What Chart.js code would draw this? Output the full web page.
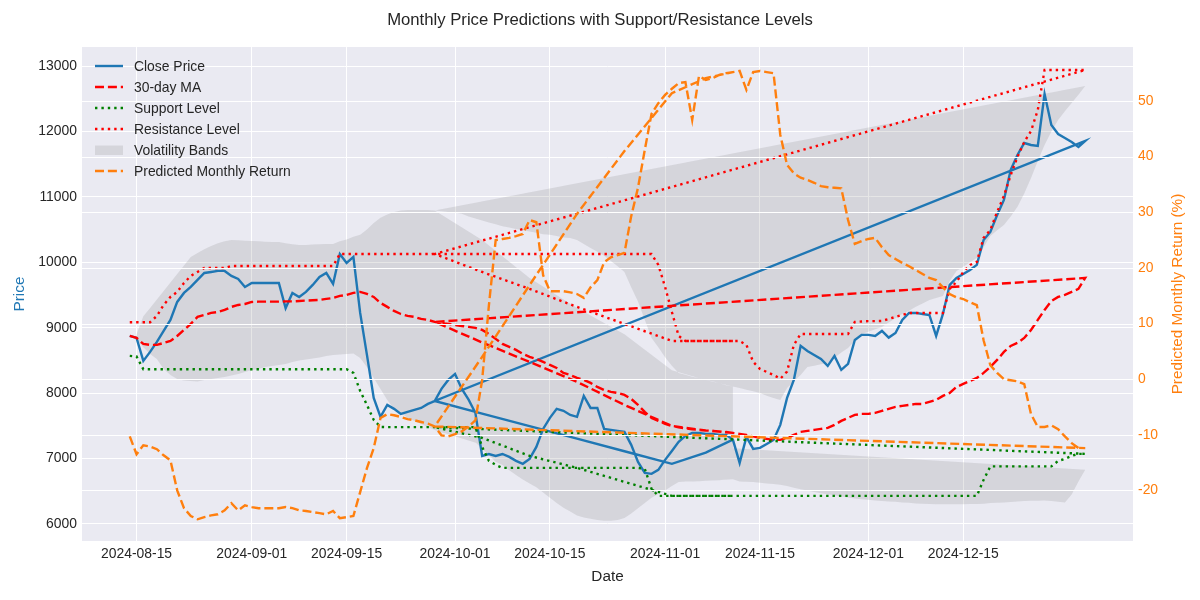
<!DOCTYPE html>
<html>
<head>
<meta charset="utf-8">
<title>Monthly Price Predictions</title>
<script src="https://cdn.jsdelivr.net/npm/chart.js@4.4.1/dist/chart.umd.min.js"></script>
<style>
  body { margin: 0; background: #ffffff; }
  #wrap { position: relative; width: 1200px; height: 600px; }
  #legend { position: absolute; left: 0; top: 0; font-family: 'Liberation Sans', Arial, sans-serif; font-size: 13.9px; color: #262626; }
  .row { position: absolute; left: 95px; height: 20px; line-height: 20px; white-space: nowrap; }
  .row svg { position: absolute; left: 0; top: 5px; }
  .row span { position: absolute; left: 39px; }
</style>
</head>
<body>
<div id="wrap">
  <canvas id="chart" width="1200" height="600"></canvas>
  <div id="legend"></div>
</div>
<script>
// daily points run from startDate for closeDaily.length days, then the
// series revisits late Sep - mid Nov (revisitDates), drawn in that order
const startDate = '2024-08-14';
const revisitDates = ['2024-09-28', '2024-10-05', '2024-10-12', '2024-10-19', '2024-10-26', '2024-11-02', '2024-11-07', '2024-11-11'];
const xTickLabels = ['2024-08-15', '2024-09-01', '2024-09-15', '2024-10-01', '2024-10-15', '2024-11-01', '2024-11-15', '2024-12-01', '2024-12-15'];
const priceTicks = [6000, 7000, 8000, 9000, 10000, 11000, 12000, 13000];
const returnTicks = [-20, -10, 0, 10, 20, 30, 40, 50];

const closeDaily = [
  8874, 8844, 8492, 8630, 8783, 8950, 9119, 9394, 9532, 9623,
  9730, 9837, 9852, 9868, 9868, 9791, 9746, 9623, 9684, 9684,
  9684, 9684, 9684, 9300, 9532, 9470, 9547, 9654, 9776, 9837,
  9669, 10127, 9990, 10082, 9226, 8584, 7927, 7637, 7820, 7760,
  7683, 7713, 7744, 7774, 7835, 7880, 8065, 8202, 8294, 8065,
  7900, 7700, 7040, 7070, 7040, 7070, 7025, 6965, 6920, 6995,
  7178, 7453, 7622, 7760, 7730, 7667, 7637, 7958, 7774, 7774,
  7453, 7438, 7423, 7407, 7210, 6950, 6781, 6766, 6827, 6980,
  7117, 7255, 7346, 7392, 7392, 7377, 7377, 7362, 7362, 7290,
  6934, 7331, 7148, 7163, 7224, 7285, 7515, 7927, 8202, 8722,
  8645, 8584, 8523, 8416, 8569, 8355, 8447, 8813, 8890, 8890,
  8874, 8951, 8849, 8920, 9119, 9226, 9226, 9210, 9195, 8874,
  9210, 9654, 9761, 9822, 9883, 9960, 10341, 10464, 10723, 10953,
  11411, 11640, 11823, 11793, 11778, 12572, 12098, 11961, 11900, 11839,
  11762, 11854
];
const maDaily = [
  8874, 8844, 8752, 8737, 8737, 8767, 8798, 8874, 8966, 9058,
  9165, 9195, 9226, 9241, 9272, 9318, 9348, 9363, 9394, 9399,
  9399, 9399, 9399, 9402, 9402, 9409, 9415, 9420, 9424, 9440,
  9455, 9486, 9501, 9532, 9547, 9516, 9470, 9379, 9318, 9257,
  9210, 9180, 9165, 9134, 9119, 9089, 9073, 9058, 9043, 9027,
  9012, 8997, 8966, 8905, 8829, 8752, 8706, 8661, 8600, 8554,
  8523, 8477, 8431, 8385, 8309, 8278, 8232, 8202, 8156, 8095,
  8049, 8019, 8003, 7973, 7912, 7820, 7713, 7622, 7576, 7530,
  7499, 7476, 7461, 7446, 7438, 7430, 7423, 7415, 7407, 7392,
  7377, 7362, 7339, 7316, 7300, 7285, 7285, 7316, 7362, 7407,
  7423, 7438, 7453, 7469, 7515, 7576, 7622, 7667, 7683, 7683,
  7698, 7729, 7759, 7790, 7805, 7820, 7835, 7835, 7866, 7897,
  7958, 8003, 8095, 8141, 8187, 8232, 8309, 8401, 8508, 8630,
  8722, 8768, 8844, 8966, 9119, 9272, 9409, 9470, 9501, 9547,
  9593, 9761
];
const supportDaily = [
  8570, 8560, 8366, 8366, 8366, 8366, 8366, 8366, 8366, 8366,
  8366, 8366, 8366, 8366, 8366, 8366, 8366, 8366, 8366, 8366,
  8366, 8366, 8366, 8366, 8366, 8366, 8366, 8366, 8366, 8366,
  8366, 8366, 8366, 8309, 8034, 7820, 7591, 7484, 7480, 7480,
  7480, 7480, 7480, 7480, 7480, 7480, 7480, 7480, 7480, 7480,
  7480, 7480, 7178, 6965, 6904, 6857, 6857, 6857, 6857, 6857,
  6857, 6857, 6857, 6857, 6857, 6857, 6857, 6857, 6857, 6857,
  6857, 6857, 6857, 6857, 6857, 6857, 6843, 6537, 6430, 6430,
  6430, 6430, 6430, 6430, 6430, 6430, 6430, 6430, 6430, 6430,
  6430, 6430, 6430, 6430, 6430, 6430, 6430, 6430, 6430, 6430,
  6430, 6430, 6430, 6430, 6430, 6430, 6430, 6430, 6430, 6430,
  6430, 6430, 6430, 6430, 6430, 6430, 6430, 6430, 6430, 6430,
  6430, 6430, 6430, 6430, 6430, 6430, 6674, 6880, 6880, 6880,
  6880, 6880, 6880, 6880, 6880, 6880, 6880, 6964, 6995, 7041,
  7072, 7072
];
const resistanceDaily = [
  9084, 9084, 9084, 9084, 9180, 9348, 9470, 9547, 9684, 9791,
  9852, 9913, 9913, 9913, 9913, 9944, 9944, 9944, 9944, 9944,
  9944, 9944, 9944, 9944, 9944, 9944, 9944, 9944, 9944, 9944,
  9944, 10127, 10127, 10127, 10127, 10127, 10127, 10127, 10127, 10127,
  10127, 10127, 10127, 10127, 10127, 10127, 10127, 10127, 10127, 10127,
  10127, 10127, 10127, 10127, 10127, 10127, 10127, 10127, 10127, 10127,
  10127, 10127, 10127, 10127, 10127, 10127, 10127, 10127, 10127, 10127,
  10127, 10127, 10127, 10127, 10127, 10127, 10127, 10127, 9960, 9623,
  9241, 8874, 8798, 8798, 8798, 8798, 8798, 8798, 8798, 8798,
  8798, 8737, 8477, 8370, 8324, 8278, 8220, 8330, 8737, 8905,
  8905, 8905, 8905, 8905, 8905, 8905, 8905, 9088, 9095, 9100,
  9100, 9104, 9134, 9165, 9195, 9226, 9226, 9226, 9226, 9226,
  9226, 9593, 9700, 9852, 9960, 10005, 10372, 10494, 10769, 11014,
  11334, 11610, 11839, 12007, 12328, 12939, 12939, 12939, 12939, 12939,
  12939, 12939
];
const returnDaily = [
  -10.3, -13.5, -11.9, -12.1, -12.6, -13.7, -14.6, -20.0, -23.2, -24.6,
  -25.2, -24.8, -24.5, -24.3, -23.6, -22.3, -23.6, -22.7, -23.0, -23.2,
  -23.2, -23.2, -23.2, -23.0, -23.2, -23.6, -23.7, -23.9, -24.1, -24.3,
  -23.7, -25.0, -24.8, -24.6, -20.3, -16.0, -12.4, -7.0, -6.3, -6.5,
  -6.8, -7.2, -7.4, -7.7, -8.0, -8.5, -10.1, -10.3, -9.9, -9.4,
  -8.5, -7.4, -0.2, 13.3, 25.0, 25.2, 25.4, 25.7, 26.1, 28.6,
  28.2, 18.7, 15.8, 15.8, 15.8, 15.6, 15.3, 14.6, 16.5, 17.8,
  21.0, 21.9, 22.3, 22.7, 29.3, 34.4, 41.2, 47.7, 49.6, 51.1,
  52.2, 53.2, 53.4, 46.6, 54.5, 53.8, 54.1, 54.7, 55.0, 55.2,
  55.4, 52.0, 55.2, 55.4, 55.2, 55.0, 43.9, 38.5, 37.0, 36.2,
  35.8, 35.3, 34.7, 34.5, 34.4, 34.3, 28.6, 24.3, 24.8, 25.2,
  25.4, 23.7, 22.3, 21.6, 20.9, 20.3, 19.6, 18.9, 18.2, 17.8,
  16.5, 15.3, 14.7, 14.4, 13.8, 13.3, 7.0, 2.5, 1.1, 0.0,
  -0.2, -0.4, -0.9, -6.3, -8.6, -8.6, -8.3, -9.0, -10.3, -11.5,
  -12.4, -12.4
];
// volatility bands start one day later (first day has no spread)
const upperDaily = [
  8900, 9176, 9300, 9430, 9560, 9690, 9820, 9950, 10080,
  10143, 10200, 10250, 10290, 10320, 10340, 10335, 10330, 10325, 10320,
  10315, 10310, 10310, 10290, 10275, 10265, 10265, 10270, 10275, 10280,
  10280, 10320, 10350, 10390, 10420, 10500, 10600, 10680, 10730, 10770,
  10790, 10800, 10800, 10800, 10800, 10790, 10780, 10770, 10760, 10740,
  10700, 10670, 10640, 10610, 10580, 10550, 10530, 10510, 10490, 10470,
  10450, 10430, 10420, 10400, 10380, 10370, 10340, 10280, 10220, 10160,
  10100, 10020, 9940, 9853, 9620, 9400, 9120, 8844, 8700, 8550,
  8420, 8309, 8280, 8250, 8230, 8200, 8180, 8150, 8120, 8100,
  8080, 8050, 8030, 8003, 7960, 7927, 7897, 8080, 8180, 8279,
  8401, 8420, 8440, 8462, 8540, 8620, 8691, 8800, 8905, 8940,
  8975, 9012, 9080, 9145, 9210, 9260, 9320, 9370, 9424, 9455,
  9486, 9715, 9868, 9930, 10000, 10066, 10230, 10402, 10490, 10570,
  10700, 10850, 11050, 11290, 11550, 11793, 12000, 12175, 12310, 12435,
  12560, 12694
];
const lowerDaily = [
  8820, 8700, 8600, 8523, 8370, 8279, 8217, 8194, 8187,
  8179, 8202, 8217, 8233, 8248, 8271, 8294, 8324, 8355, 8370,
  8400, 8416, 8431, 8447, 8477, 8500, 8515, 8530, 8546, 8569,
  8584, 8592, 8600, 8607, 8538, 8400, 8233, 8065, 7897, 7759,
  7698, 7622, 7576, 7530, 7484, 7438, 7400, 7380, 7360, 7340,
  7320, 7250, 7150, 7050, 6950, 6900, 6820, 6750, 6680, 6620,
  6560, 6480, 6400, 6320, 6250, 6190, 6130, 6100, 6080, 6060,
  6050, 6050, 6060, 6090, 6160, 6240, 6320, 6400, 6460, 6510,
  6580, 6640, 6650, 6650, 6655, 6660, 6665, 6670, 6680, 6684,
  6650, 6645, 6640, 6630, 6620, 6610, 6600, 6580, 6555, 6530,
  6510, 6490, 6470, 6455, 6440, 6420, 6405, 6390, 6380, 6370,
  6360, 6350, 6345, 6340, 6330, 6325, 6315, 6310, 6305, 6300,
  6300, 6300, 6300, 6300, 6305, 6305, 6310, 6320, 6325, 6330,
  6335, 6345, 6350, 6355, 6355, 6360, 6350, 6340, 6330, 6450,
  6650, 6830
];

const closeRevisit = [7880, 7688, 7496, 7304, 7112, 6920, 7090, 7290];
const maRevisit = [9089, 8775, 8477, 8172, 7820, 7499, 7430, 7392];
const supportRevisit = [7480, 7316, 7041, 6858, 6644, 6430, 6430, 6430];
const resistanceRevisit = [10127, 9852, 9593, 9318, 9058, 8798, 8798, 8798];
const returnRevisit = [-8.5, 4.0, 16.9, 29.7, 41.0, 51.4, 54.1, 55.2];
const upperRevisit = [10790, 10340, 9760, 9300, 8900, 8350, 8200, 8100];
const lowerRevisit = [7438, 7210, 7194, 7044, 6740, 6648, 6660, 6684];

const FONT = "'Liberation Sans', Arial, sans-serif";
const TEXT = '#262626';
Chart.defaults.font.family = FONT;

const dayOf = s => (Date.parse(s) - Date.parse(startDate)) / 86400000;
const dailyX = closeDaily.map((_, i) => i);
const revisitX = revisitDates.map(dayOf);
const pathX = dailyX.concat(revisitX);
const bandX = dailyX.slice(1).concat(revisitX);

function path(daily, revisit) {
  return daily.concat(revisit).map((y, i) => ({ x: pathX[i], y: y }));
}

// fill_between style polygon: lower edge forward, upper edge back
const lowerPts = lowerDaily.concat(lowerRevisit).map((y, i) => ({ x: bandX[i], y: y }));
const upperPts = upperDaily.concat(upperRevisit).map((y, i) => ({ x: bandX[i], y: y }));
const bandPolygon = lowerPts.concat(upperPts.slice().reverse());

const DASHED = [9, 3.9];
const DOTTED = [2.4, 4];

function lineSet(label, data, color, dash, order, axis) {
  return {
    label: label, data: data, borderColor: color, backgroundColor: color,
    borderWidth: 2.4, borderDash: dash, borderCapStyle: 'butt',
    pointRadius: 0, tension: 0, fill: false, order: order, yAxisID: axis || 'y'
  };
}

const plotBackground = {
  id: 'plotBackground',
  beforeDraw(chart) {
    const a = chart.chartArea;
    const ctx = chart.ctx;
    ctx.save();
    ctx.fillStyle = '#eaeaf2';
    ctx.fillRect(a.left, a.top, a.right - a.left, a.bottom - a.top);
    ctx.restore();
  }
};

// right axis grid sits above the price artists, below the return line
const returnGrid = {
  id: 'returnGrid',
  beforeDatasetDraw(chart, args) {
    if (args.meta.yAxisID !== 'y1') return;
    const a = chart.chartArea;
    const ctx = chart.ctx;
    const s = chart.scales.y1;
    ctx.save();
    ctx.strokeStyle = '#ffffff';
    ctx.lineWidth = 1;
    returnTicks.forEach(v => {
      const y = Math.round(s.getPixelForValue(v)) + 0.5;
      ctx.beginPath();
      ctx.moveTo(a.left, y);
      ctx.lineTo(a.right, y);
      ctx.stroke();
    });
    ctx.restore();
  }
};

const rightTitle = {
  id: 'rightTitle',
  afterDraw(chart) {
    const a = chart.chartArea;
    const ctx = chart.ctx;
    ctx.save();
    ctx.translate(1178, (a.top + a.bottom) / 2);
    ctx.rotate(-Math.PI / 2);
    ctx.fillStyle = '#ff7f0e';
    ctx.font = '15.3px ' + FONT;
    ctx.textAlign = 'center';
    ctx.textBaseline = 'middle';
    ctx.fillText('Predicted Monthly Return (%)', 0, 0);
    ctx.restore();
  }
};

new Chart(document.getElementById('chart'), {
  type: 'line',
  data: {
    datasets: [
      {
        label: 'Volatility Bands', data: bandPolygon, fill: 'shape',
        backgroundColor: 'rgba(128,128,128,0.2)', borderColor: 'rgba(0,0,0,0)',
        borderWidth: 0, pointRadius: 0, tension: 0, order: 10, yAxisID: 'y'
      },
      lineSet('Close Price', path(closeDaily, closeRevisit), '#1f77b4', [], 5),
      lineSet('30-day MA', path(maDaily, maRevisit), '#ff0000', DASHED, 4),
      lineSet('Support Level', path(supportDaily, supportRevisit), '#008000', DOTTED, 3),
      lineSet('Resistance Level', path(resistanceDaily, resistanceRevisit), '#ff0000', DOTTED, 2),
      lineSet('Predicted Monthly Return', path(returnDaily, returnRevisit), '#ff7f0e', DASHED, 1, 'y1')
    ]
  },
  options: {
    responsive: false,
    animation: false,
    devicePixelRatio: 1,
    layout: { padding: 0 },
    plugins: {
      legend: { display: false },
      tooltip: { enabled: false },
      title: {
        display: true,
        text: 'Monthly Price Predictions with Support/Resistance Levels',
        color: TEXT,
        font: { size: 16.7, weight: 'normal' },
        padding: { top: 10, bottom: 17 }
      }
    },
    scales: {
      x: {
        type: 'linear', min: -7.05, max: 148.05,
        afterBuildTicks: s => { s.ticks = xTickLabels.map(l => ({ value: dayOf(l) })); },
        ticks: {
          autoSkip: false, maxRotation: 0, padding: 5, color: TEXT, font: { size: 13.9 },
          callback: v => xTickLabels.find(l => dayOf(l) === v) || ''
        },
        grid: { color: '#ffffff', lineWidth: 1, drawTicks: false },
        border: { display: false },
        title: { display: true, text: 'Date', color: TEXT, font: { size: 15.3 }, padding: { top: 0, bottom: 13.8 } },
        afterFit: s => { s.height = 59; }
      },
      y: {
        position: 'left', min: 5740, max: 13290,
        afterBuildTicks: s => { s.ticks = priceTicks.map(v => ({ value: v })); },
        ticks: { padding: 5, color: TEXT, font: { size: 13.9 }, callback: v => String(v) },
        grid: { color: '#ffffff', lineWidth: 1, drawTicks: false },
        border: { display: false },
        title: { display: true, text: 'Price', color: '#1f77b4', font: { size: 15.3 }, padding: { top: 10.8, bottom: 0 } },
        afterFit: s => { s.width = 82; }
      },
      y1: {
        position: 'right', min: -29.1, max: 59.7,
        afterBuildTicks: s => { s.ticks = returnTicks.map(v => ({ value: v })); },
        ticks: { padding: 5, color: '#ff7f0e', font: { size: 13.9 }, callback: v => String(v) },
        grid: { display: false, drawTicks: false },
        border: { display: false },
        afterFit: s => { s.width = 67; }
      }
    }
  },
  plugins: [plotBackground, returnGrid, rightTitle]
});

// legend drawn like matplotlib's: inside the axes, upper left
const legendItems = [
  { label: 'Close Price', color: '#1f77b4', dash: '' },
  { label: '30-day MA', color: '#ff0000', dash: DASHED.join(' ') },
  { label: 'Support Level', color: '#008000', dash: DOTTED.join(' ') },
  { label: 'Resistance Level', color: '#ff0000', dash: DOTTED.join(' ') },
  { label: 'Volatility Bands', patch: 'rgba(128,128,128,0.2)' },
  { label: 'Predicted Monthly Return', color: '#ff7f0e', dash: DASHED.join(' ') }
];
const legend = document.getElementById('legend');
legendItems.forEach((item, i) => {
  const row = document.createElement('div');
  row.className = 'row';
  row.style.top = (56 + 21 * i) + 'px';
  const sample = item.patch
    ? '<rect x="0" y="0.5" width="28" height="9.5" fill="' + item.patch + '"/>'
    : '<line x1="0" y1="5" x2="28" y2="5" stroke="' + item.color + '" stroke-width="2.4"' +
      (item.dash ? ' stroke-dasharray="' + item.dash + '"' : '') + '/>';
  row.innerHTML = '<svg width="28" height="10">' + sample + '</svg><span>' + item.label + '</span>';
  legend.appendChild(row);
});
</script>
</body>
</html>
